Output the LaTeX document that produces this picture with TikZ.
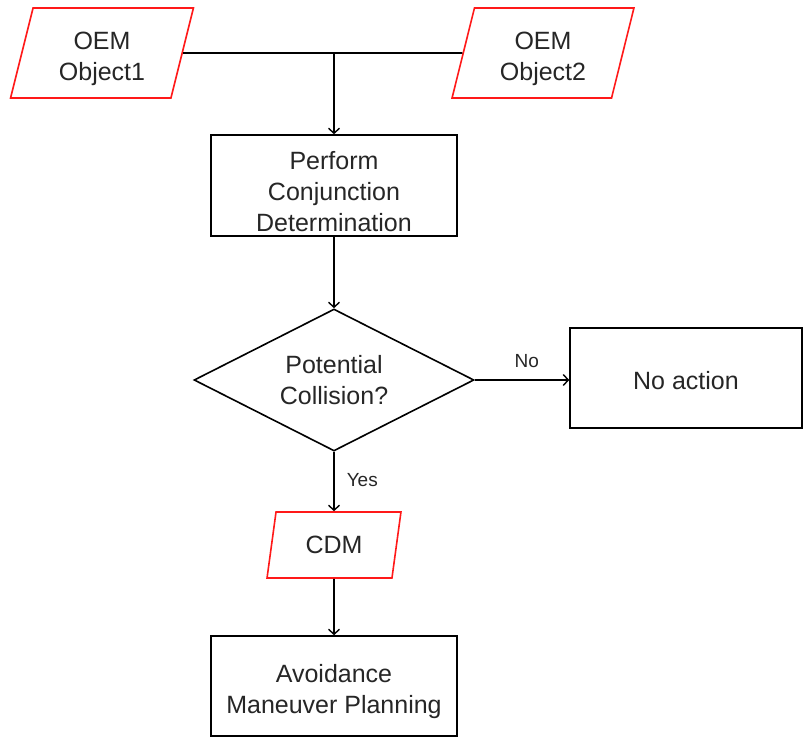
\documentclass[tikz,border=0pt]{standalone}
\usepackage{fontspec}
\setmainfont{Liberation Sans}
\usetikzlibrary{shapes.geometric,arrows.meta}
\newcommand\firstln[1][30pt]{\rule{0pt}{#1}}
\begin{document}
\begin{tikzpicture}[x=1pt,y=-1pt,
  every node/.style={font=\fontsize{25}{31}\selectfont, align=center, inner sep=0pt, text=black!85},
  proc/.style={draw, line width=1.6pt, minimum width=#1, minimum height=101pt},
  proc/.default=246pt,
  io/.style 2 args={shape=trapezium, trapezium stretches=true, draw=red!90, line width=1.6pt,
    trapezium left angle=#2, trapezium right angle=180-#2, minimum width=#1},
  decision/.style={shape=diamond, shape aspect=2, draw, line width=1.6pt, minimum width=280pt, minimum height=142pt},
  conn/.style={line width=1.6pt},
  arr/.style={conn, -{Straight Barb[length=5pt,width=11pt,line width=1.4pt]}},
  lbl/.style={font=\fontsize{19}{22}\selectfont}
]
\useasboundingbox (0,0) rectangle (804,738);
\node[io={183pt}{78}, minimum height=90pt] (o1) at (102,53) {\firstln OEM\\Object1};
\node[io={182pt}{78}, minimum height=90pt] (o2) at (543,53) {\firstln OEM\\Object2};
\node[proc] (perf) at (334,185.5) {\firstln Perform\\Conjunction\\Determination};
\node[decision] (dec) at (334,380) {Potential\\Collision?};
\node[proc={232pt}, minimum height=100pt] (noact) at (686,378) {\firstln[24pt]No action};
\node[io={134pt}{76}, minimum height=66pt] (cdm) at (334,545) {CDM};
\node[proc, minimum height=100pt] (avoid) at (334,686) {\firstln Avoidance\\Maneuver Planning};
\coordinate (j) at (334,53);
\draw[conn] (o1.east) -- (o2.west);
\draw[arr] (j) -- (perf.north);
\draw[arr] (perf.south) -- (dec.north);
\draw[arr] (dec.east) -- (dec.east -| noact.west) node[lbl, pos=0.55, above=12pt] (nolbl) {No};
\draw[arr] (dec.south) -- (cdm.north) node[lbl, pos=0.48, right=12pt] (yeslbl) {Yes};
\draw[arr] (cdm.south) -- (avoid.north);
\end{tikzpicture}
\end{document}
